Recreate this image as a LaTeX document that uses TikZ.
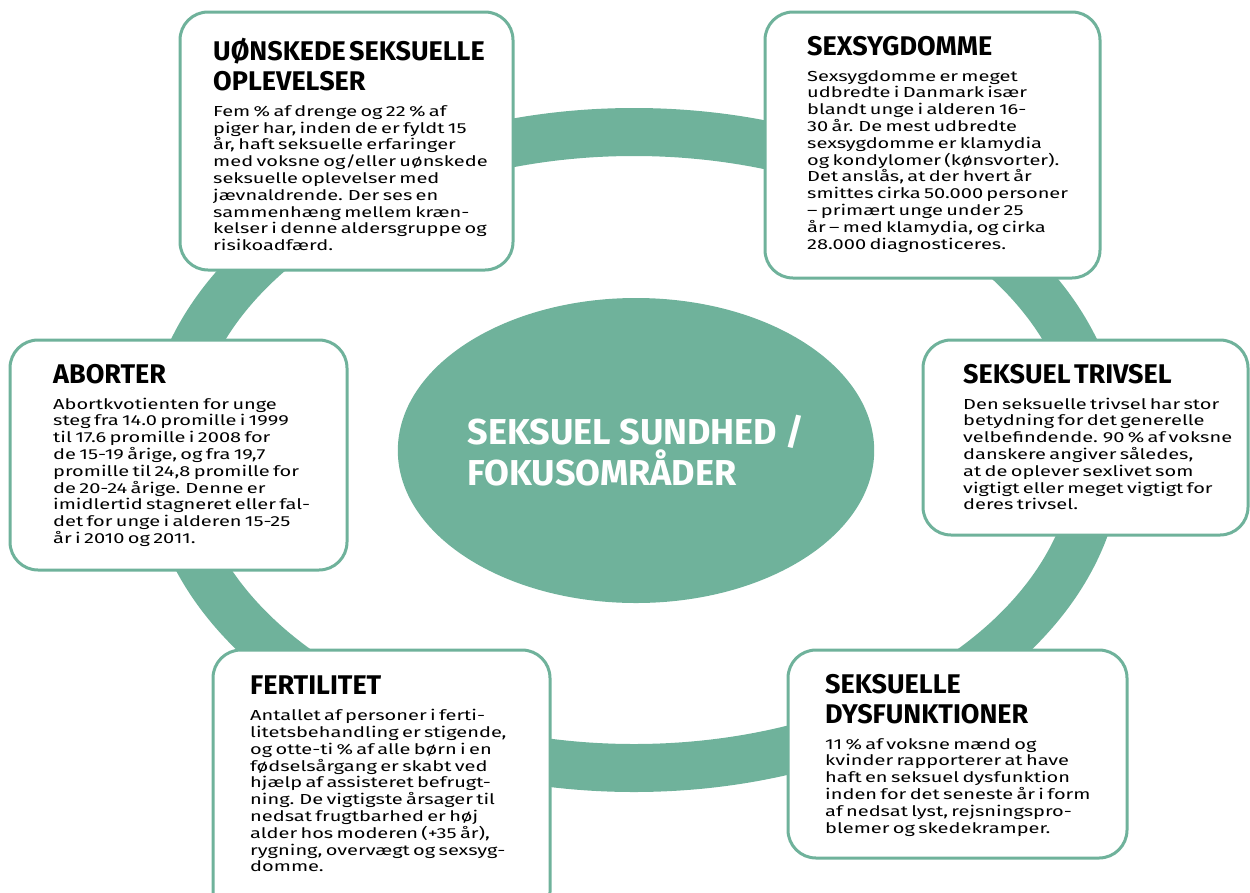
\documentclass[tikz,border=0pt]{standalone}
\usepackage{fontspec}
\setmainfont{Fira Sans}
\newfontfamily\bodyfont{Fira Sans}[FakeStretch=1.38]
\newfontfamily\headfont{Fira Sans}
\usetikzlibrary{shapes.geometric}
\definecolor{sundteal}{RGB}{111,178,155}
\setlength{\parindent}{0pt}
\newcommand{\boxhead}[1]{{\headfont\bfseries\fontsize{27}{30}\selectfont #1\par}\vspace{9pt}}
\newcommand{\boxtext}[1]{{\bodyfont\fontsize{14.5}{16.8}\selectfont #1\par}}

\begin{document}
\begin{tikzpicture}[
    x=1pt, y=-1pt,
    box/.style={draw=sundteal, line width=3pt, fill=white, rounded corners=28pt,
      anchor=north west, inner sep=0pt, outer sep=0pt},
    txt/.style={anchor=north west, inner sep=0pt, text width=320pt, align=left},
    hub/.style={ellipse, fill=sundteal, minimum width=435pt, minimum height=305pt,
      inner sep=0pt, text=white, align=left,
      font=\headfont\bfseries\fontsize{36}{35}\selectfont}
  ]
  \useasboundingbox (0,0) rectangle (1250,892);

  % ring and centre
  \draw[sundteal, line width=48pt] (634,450) ellipse [x radius=465, y radius=318];
  \node[hub] (hub) at (636,450.5) {SEKSUEL SUNDHED /\\FOKUSOMRÅDER};

  % boxes
  \node[box, minimum width=333pt, minimum height=258pt] (unsk) at (180,12) {};
  \node[box, minimum width=335pt, minimum height=266pt] (sygd) at (765,12) {};
  \node[box, minimum width=337pt, minimum height=230pt] (abort) at (10,340) {};
  \node[box, minimum width=325pt, minimum height=195pt] (trivs) at (923,340) {};
  \node[box, minimum width=337pt, minimum height=270pt] (fert) at (213,650) {};
  \node[box, minimum width=339pt, minimum height=208pt] (dysf) at (788,650) {};

  \node[txt] (unsk text) at ([shift={(33,26)}]unsk.north west) {%
    \boxhead{UØNSKEDE SEKSUELLE\\OPLEVELSER}%
    \boxtext{Fem \% af drenge og 22 \% af\\
      piger har, inden de er fyldt 15\\
      år, haft seksuelle erfaringer\\
      med voksne og/eller uønskede\\
      seksuelle oplevelser med\\
      jævnaldrende. Der ses en\\
      sammenhæng mellem kræn-\\
      kelser i denne aldersgruppe og\\
      risikoadfærd.}};

  \node[txt] (sygd text) at ([shift={(42,24)}]sygd.north west) {%
    \boxhead{SEXSYGDOMME}%
    \boxtext{Sexsygdomme er meget\\
      udbredte i Danmark især\\
      blandt unge i alderen 16-\\
      30 år. De mest udbredte\\
      sexsygdomme er klamydia\\
      og kondylomer (kønsvorter).\\
      Det anslås, at der hvert år\\
      smittes cirka 50.000 personer\\
      – primært unge under 25\\
      år – med klamydia, og cirka\\
      28.000 diagnosticeres.}};

  \node[txt] (abort text) at ([shift={(43,24)}]abort.north west) {%
    \boxhead{ABORTER}%
    \boxtext{Abortkvotienten for unge\\
      steg fra 14.0 promille i 1999\\
      til 17.6 promille i 2008 for\\
      de 15-19 årige, og fra 19,7\\
      promille til 24,8 promille for\\
      de 20-24 årige. Denne er\\
      imidlertid stagneret eller fal-\\
      det for unge i alderen 15-25\\
      år i 2010 og 2011.}};

  \node[txt] (trivs text) at ([shift={(40,24)}]trivs.north west) {%
    \boxhead{SEKSUEL TRIVSEL}%
    \boxtext{Den seksuelle trivsel har stor\\
      betydning for det generelle\\
      velbefindende. 90 \% af voksne\\
      danskere angiver således,\\
      at de oplever sexlivet som\\
      vigtigt eller meget vigtigt for\\
      deres trivsel.}};

  \node[txt] (fert text) at ([shift={(37,26)}]fert.north west) {%
    \boxhead{FERTILITET}%
    \boxtext{Antallet af personer i ferti-\\
      litetsbehandling er stigende,\\
      og otte-ti \% af alle børn i en\\
      fødselsårgang er skabt ved\\
      hjælp af assisteret befrugt-\\
      ning. De vigtigste årsager til\\
      nedsat frugtbarhed er høj\\
      alder hos moderen (+35 år),\\
      rygning, overvægt og sexsyg-\\
      domme.}};

  \node[txt] (dysf text) at ([shift={(37,24)}]dysf.north west) {%
    \boxhead{SEKSUELLE\\DYSFUNKTIONER}%
    \boxtext{11 \% af voksne mænd og\\
      kvinder rapporterer at have\\
      haft en seksuel dysfunktion\\
      inden for det seneste år i form\\
      af nedsat lyst, rejsningspro-\\
      blemer og skedekramper.}};
\end{tikzpicture}
\end{document}
